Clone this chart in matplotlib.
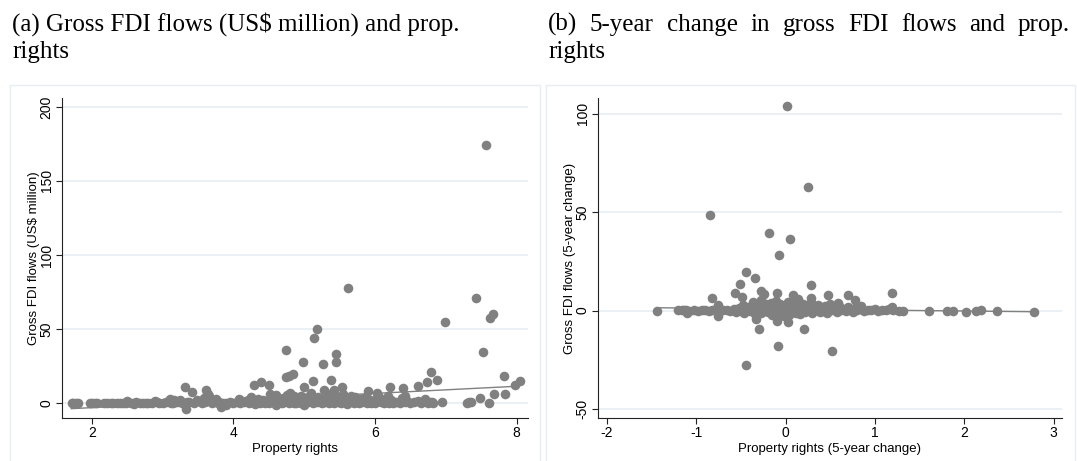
import numpy as np
import matplotlib
matplotlib.use("Agg")
import matplotlib.pyplot as plt
import matplotlib.patches as ptc

plt.rcParams["axes.unicode_minus"] = False

# ---- panel (a): property rights vs gross FDI flows (US$ million) ----
a_x = [7.56, 5.62, 7.42, 7.62, 7.66, 6.99, 5.18, 5.14, 4.74, 7.52, 5.45, 5.45,
       4.98, 5.27, 6.79, 4.74, 4.79, 4.84, 6.88, 7.82, 8.05, 7.97, 5.12, 5.38,
       6.74, 6.61, 4.29, 4.39, 4.50, 3.31, 5.54, 5.00, 6.21, 6.40, 5.90, 6.03,
       3.41, 3.62, 3.64, 5.42, 5.28, 7.84, 7.68, 7.48, 3.33, 3.82, 7.61, 6.95,
       7.32, 7.30, 7.35, 6.77, 6.43,
       1.72, 1.74, 1.78, 1.80, 1.97, 2.00, 2.04, 2.08, 2.18, 2.22, 2.27, 2.30,
       2.35, 2.40, 2.44, 2.50, 2.48, 2.55, 2.60, 2.63, 2.68, 2.72, 2.76, 2.80,
       2.85, 2.90, 2.92, 2.95, 3.00, 3.05, 3.10, 3.12, 3.15, 3.20, 3.25, 3.28,
       3.35, 3.38, 3.45, 3.50, 3.55, 3.60, 3.58, 3.66, 3.70, 3.75, 3.78, 3.80,
       3.85, 3.90, 3.95, 4.00, 4.05, 4.08, 4.10, 4.12, 4.15, 4.20, 4.22, 4.25,
       4.28, 4.30, 4.32, 4.35, 4.38, 4.40, 4.42, 4.45, 4.48, 4.50, 4.52, 4.55,
       4.58, 4.60, 4.62, 4.65, 4.68, 4.70, 4.72, 4.75, 4.78, 4.80, 4.82, 4.85,
       4.86, 4.88, 4.90, 4.92, 4.95, 4.96, 4.98, 5.00, 5.02, 5.05, 5.08, 5.10,
       5.12, 5.15, 5.18, 5.20, 5.22, 5.25, 5.28, 5.30, 5.32, 5.35, 5.38, 5.40,
       5.42, 5.45, 5.48, 5.50, 5.52, 5.55, 5.58, 5.60, 5.62, 5.65, 5.68, 5.70,
       5.72, 5.75, 5.78, 5.80, 5.82, 5.85, 5.88, 5.90, 5.92, 5.95, 5.98, 6.00,
       6.02, 6.05, 6.08, 6.10, 6.12, 6.15, 6.18, 6.20, 6.22, 6.25, 6.30, 6.35,
       6.38, 6.42, 6.45, 6.50, 6.55, 6.60, 6.65, 6.70, 6.75, 6.80, 6.82,
       3.90, 4.30, 5.00, 5.60, 4.60, 2.60,
       4.56, 4.76, 4.91, 5.06, 5.24, 5.36, 5.51, 5.66, 5.84, 6.06, 3.16, 3.48]
a_y = [174.5, 77.9, 70.7, 57.4, 60.3, 54.7, 50.0, 44.1, 35.6, 34.2, 33.1, 27.5,
       27.5, 26.6, 20.7, 17.6, 18.5, 19.6, 15.3, 18.0, 15.1, 12.4, 15.1, 15.8,
       14.0, 11.7, 11.9, 14.0, 11.9, 10.6, 10.8, 10.8, 10.6, 9.9, 8.1, 6.8,
       7.2, 9.0, 6.3, 9.0, 9.0, 6.3, 5.9, 3.4, -4.0, -2.9, 0.0, 0.5,
       0.5, 0.3, 1.0, 0.5, 5.0,
       0.0, 0.0, 0.0, 0.0, 0.0, 0.0, 0.2, 0.0, 0.0, 0.3, 0.0, 0.1,
       0.2, 0.0, 0.3, 1.2, 0.0, 0.2, 0.0, 0.8, 0.2, 0.0, 0.3, 0.1,
       0.0, 1.5, 0.4, 0.2, 0.0, 0.6, 2.5, 0.3, 0.0, 0.8, 2.0, 0.2,
       0.5, 1.0, 0.0, 1.5, 0.3, 0.8, 3.5, 4.5, 0.2, 2.5, 0.0, 1.0,
       0.3, 0.0, 0.5, 0.2, 0.8, 3.0, 0.0, 1.5, 0.4, 2.0, 0.0, 4.0,
       0.8, 1.5, 0.2, 3.0, 0.0, 0.6, 2.2, 0.3, 1.0, 0.0, 6.0, 0.4,
       2.5, 5.5, 0.2, 1.2, 0.0, 3.5, 0.6, 2.0, 0.2, 7.0, 1.5, 0.3,
       4.5, 0.0, 2.5, 0.8, 5.0, 0.2, 1.8, 0.0, 3.2, 0.5, 1.2, 6.5,
       0.0, 2.8, 0.4, 4.0, 1.0, 0.0, 2.0, 0.6, 5.5, 0.2, 3.0, 1.2,
       0.0, 4.5, 0.8, 2.2, 0.3, 5.8, 1.5, 0.0, 3.5, 0.7, 2.0, 0.2,
       4.2, 1.0, 0.0, 2.5, 0.5, 1.5, 0.0, 3.0, 0.8, 0.2, 2.0, 0.0,
       1.2, 4.0, 0.4, 2.2, 0.0, 1.0, 5.0, 0.3, 1.8, 0.0, 0.8, 0.2,
       3.5, 0.5, 1.5, 0.0, 0.4, 1.2, 0.0, 2.5, 0.3, 1.0, 0.0,
       -1.0, -0.8, -1.2, -0.8, -1.0, -0.5,
       3.8, 5.2, 3.0, 4.2, 2.6, 6.2, 3.4, 4.8, 3.6, 2.8, 1.8, 2.2]
a_fit_x = [1.71, 8.03]
a_fit_y = [-3.8, 11.4]

# ---- panel (b): 5-year changes ----
b_x = [0.016, 0.255, -0.845, -0.18, 0.05, -0.07, -0.44, -0.34, -0.51, 0.29,
       -0.57, -0.27, -0.24, -0.10, 0.08, 0.48, 0.70, 1.19, -0.82, -0.49,
       0.14, 0.29, 0.78, -0.76, 0.59, 0.84, 1.19, -0.33, -0.30, -0.10,
       0.03, 0.21, -0.08, 0.52, -0.44, -0.76, -1.10,
       -1.44, -1.16, -1.12, 1.27, 1.31, 1.61, 1.81, 1.87, 2.02, 2.13, 2.19,
       2.37, 2.78,
       -1.20, -1.14, -1.08, -1.02, -0.98, -0.94, -0.90, -0.86, -0.82, -0.78,
       -0.74, -0.70, -0.66, -0.62, -0.58, -0.55, -0.52, -0.50, -0.48, -0.46,
       -0.44, -0.42, -0.40, -0.38, -0.36, -0.35, -0.34, -0.32, -0.30, -0.28,
       -0.27, -0.25, -0.24, -0.22, -0.20, -0.19, -0.18, -0.16, -0.15, -0.14,
       -0.12, -0.11, -0.10, -0.09, -0.08, -0.06, -0.05, -0.04, -0.02, -0.01,
       0.00, 0.01, 0.02, 0.03, 0.04, 0.05, 0.06, 0.07, 0.08, 0.09,
       0.10, 0.11, 0.12, 0.14, 0.15, 0.16, 0.18, 0.20, 0.22, 0.24,
       0.26, 0.28, 0.30, 0.32, 0.34, 0.36, 0.38, 0.40, 0.42, 0.44,
       0.46, 0.48, 0.50, 0.52, 0.55, 0.58, 0.60, 0.62, 0.65, 0.68,
       0.70, 0.72, 0.75, 0.78, 0.80, 0.84, 0.88, 0.92, 0.96, 1.00,
       1.04, 1.08, 1.12, 1.16, 1.20]
b_y = [103.9, 62.6, 48.5, 39.6, 36.4, 28.2, 19.7, 16.5, 13.3, 12.8,
       8.7, 9.9, 8.2, 9.0, 7.8, 7.8, 7.8, 9.0, 6.3, 7.0,
       6.0, 6.3, 5.3, 3.0, 3.9, 2.2, 1.9, -4.3, -9.2, -5.4,
       -5.8, -9.2, -17.9, -20.8, -27.9, -2.6, -1.2,
       0.0, 0.5, 0.2, 0.0, 0.0, 0.0, 0.0, 0.0, -0.7, 0.0, 0.5,
       0.0, -0.5,
       0.5, 0.2, 0.0, 0.3, 0.0, 0.2, 0.5, 0.0, 0.3, 1.0,
       0.0, 0.4, 0.2, 0.0, 0.8, -0.5, 1.5, 0.0, 3.0, -1.0,
       0.5, 2.0, -0.3, 1.2, 4.5, 0.0, -2.0, 2.5, 0.3, 5.5,
       -1.0, 1.5, 0.0, 3.5, -0.5, 2.2, 0.8, 4.0, -2.5, 1.0,
       0.0, 5.0, 2.0, -1.2, 0.5, 3.2, -0.3, 1.5, -3.0, 0.2,
       2.8, -1.5, 0.6, 4.2, -2.2, 1.2, 0.0, 3.0, -0.8, 1.8,
       0.3, 5.2, -1.0, 2.4, 0.0, -2.0, 1.0, 3.5, -0.5, 1.6,
       0.2, 4.5, -1.2, 2.0, 0.4, 3.0, -0.6, 1.2, 0.0, 2.5,
       -1.5, 0.8, 3.2, 0.2, 1.5, -0.8, 2.2, 0.3, 1.0, 0.0,
       1.8, 0.4, -0.5, 1.2, 0.2, 0.6, 0.0, 0.4, 0.1, 0.8,
       0.0, 0.3, 0.5, 1.0, 0.2]
b_fit_x = [-1.41, 2.78]
b_fit_y = [1.4, -0.6]

title_a = ["(a) Gross FDI flows (US$ million) and prop.", "rights"]
title_b = ["(b) 5-year change in gross FDI flows and prop.", "rights"]

W, H = 1077, 461
DOT = "#808080"
GRID = "#e6eef1"
SANS = "Liberation Sans"
SERIF = "Liberation Serif"

fig = plt.figure(figsize=(W / 100, H / 100), dpi=100)


def px_axes(x0, y0, x1, y1):
    return fig.add_axes([x0 / W, 1 - y1 / H, (x1 - x0) / W, (y1 - y0) / H])


def style(ax, xlim, ylim, xticks, yticks, xlabel, ylabel):
    ax.set_xlim(*xlim)
    ax.set_ylim(*ylim)
    ax.set_xticks(xticks)
    ax.set_yticks(yticks)
    for s in ("top", "right"):
        ax.spines[s].set_visible(False)
    for s in ("left", "bottom"):
        ax.spines[s].set_linewidth(0.8)
        ax.spines[s].set_color("#222222")
    ax.tick_params(direction="out", length=4, width=0.8, color="#222222",
                   labelsize=10, pad=2)
    ax.tick_params(axis="y", labelrotation=90)
    for lab in ax.get_yticklabels():
        lab.set_va("center")
        lab.set_family(SANS)
    for lab in ax.get_xticklabels():
        lab.set_family(SANS)
    ax.yaxis.grid(True, color=GRID, linewidth=1.2)
    ax.set_axisbelow(True)
    ax.set_xlabel(xlabel, family=SANS, fontsize=9.5, labelpad=2)
    ax.set_ylabel(ylabel, family=SANS, fontsize=9.5, labelpad=0)


# panel frames
fig.patches.append(ptc.Rectangle((10 / W, -0.05), 530 / W, 1 - 85 / H + 0.05,
                                 transform=fig.transFigure, fill=False,
                                 edgecolor=GRID, linewidth=1))
fig.patches.append(ptc.Rectangle((546 / W, -0.05), 529 / W, 1 - 85 / H + 0.05,
                                 transform=fig.transFigure, fill=False,
                                 edgecolor=GRID, linewidth=1))

ax1 = px_axes(62, 98, 528, 418)
ax1.scatter(a_x, a_y, s=48, color=DOT, linewidths=0, zorder=3)
ax1.plot(a_fit_x, a_fit_y, color=DOT, linewidth=1, zorder=2)
style(ax1, (1.58, 8.16), (-10.1, 206), [2, 4, 6, 8], [0, 50, 100, 150, 200],
      "Property rights", "Gross FDI flows (US$ million)")

ax2 = px_axes(598, 98, 1062, 418)
ax2.scatter(b_x, b_y, s=48, color=DOT, linewidths=0, zorder=3)
ax2.plot(b_fit_x, b_fit_y, color=DOT, linewidth=1, zorder=2)
style(ax2, (-2.1, 3.095), (-54.6, 108), [-2, -1, 0, 1, 2, 3], [-50, 0, 50, 100],
      "Property rights (5-year change)", "Gross FDI flows (5-year change)")

# titles
TSIZE = 18
fig.text(12 / W, 1 - 31 / H, title_a[0], family=SERIF, fontsize=TSIZE)
fig.text(12 / W, 1 - 58 / H, title_a[1], family=SERIF, fontsize=TSIZE)

# right title first line is justified to the column width
renderer = fig.canvas.get_renderer()
words = title_b[0].split()
left, right = 548, 1070
items = [fig.text(0, 1 - 31 / H, w, family=SERIF, fontsize=TSIZE) for w in words]
widths = [t.get_window_extent(renderer).width for t in items]
gap = (right - left - sum(widths)) / (len(words) - 1)
pos = left
for t, w in zip(items, widths):
    t.set_x(pos / W)
    pos += w + gap
fig.text(548 / W, 1 - 58 / H, title_b[1], family=SERIF, fontsize=TSIZE)

fig.savefig("out.png", dpi=100)
